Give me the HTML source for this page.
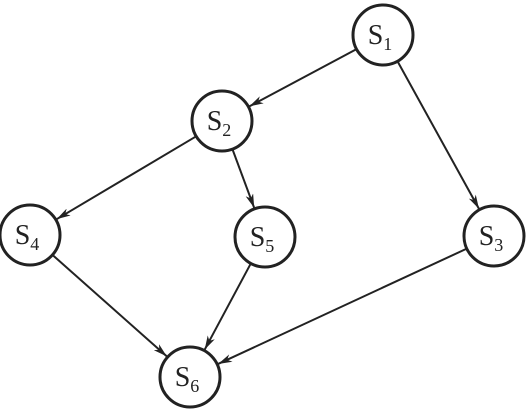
<!DOCTYPE html>
<html><head><style>
html,body{margin:0;padding:0;background:#fff;}
svg{display:block;}
text{font-family:"Liberation Serif",serif;fill:#222;}
</style></head><body>
<svg width="529" height="413" viewBox="0 0 529 413">
<defs><marker id="ah" markerWidth="14" markerHeight="8" refX="14" refY="4" orient="auto" markerUnits="userSpaceOnUse"><path d="M0,0 L14,4 L0,8 L4,4 Z" fill="#222"/></marker></defs>
<g id="edges"></g>
<g id="nodes"></g>
</svg>
<script>
const nodeIds=['1','2','3','4','5','6'];
const nodeX=[383,222,494,30,265,190];
const nodeY=[35,121,236,235,237,377];
const edgeFrom=[0,0,1,1,3,4,2];
const edgeTo=[1,2,3,4,5,5,5];
const R=30,ns='http://www.w3.org/2000/svg';
const eg=document.getElementById('edges'),ng=document.getElementById('nodes');
for(let i=0;i<edgeFrom.length;i++){
 const a=edgeFrom[i],b=edgeTo[i];
 const dx=nodeX[b]-nodeX[a],dy=nodeY[b]-nodeY[a],d=Math.hypot(dx,dy);
 const l=document.createElementNS(ns,'line');
 l.setAttribute('x1',nodeX[a]+dx/d*R);l.setAttribute('y1',nodeY[a]+dy/d*R);
 l.setAttribute('x2',nodeX[b]-dx/d*(R+1));l.setAttribute('y2',nodeY[b]-dy/d*(R+1));
 l.setAttribute('stroke','#222');l.setAttribute('stroke-width','2');
 l.setAttribute('marker-end','url(#ah)');
 
 
 eg.appendChild(l);
}
for(let i=0;i<nodeIds.length;i++){
 const g=document.createElementNS(ns,'g');
 
 
 const c=document.createElementNS(ns,'circle');
 c.setAttribute('cx',nodeX[i]);c.setAttribute('cy',nodeY[i]);c.setAttribute('r',R);
 c.setAttribute('fill','#fff');c.setAttribute('stroke','#222');c.setAttribute('stroke-width','3');
 g.appendChild(c);
 const t=document.createElementNS(ns,'text');
 t.setAttribute('x',nodeX[i]-3);t.setAttribute('y',nodeY[i]+9);
 t.setAttribute('text-anchor','middle');t.setAttribute('font-size','28');
 
 
 t.innerHTML='S<tspan font-size="18" dy="6">'+nodeIds[i]+'</tspan>';
 g.appendChild(t);
 ng.appendChild(g);
}
</script>
</body></html>
